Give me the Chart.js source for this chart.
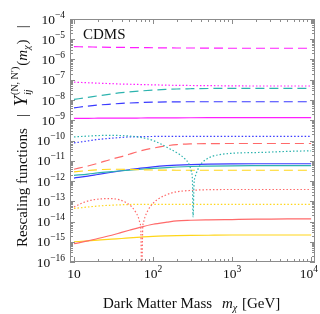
<!DOCTYPE html>
<html>
<head>
<meta charset="utf-8">
<script src="https://cdn.jsdelivr.net/npm/chart.js@4.4.1/dist/chart.umd.min.js"></script>
<style>
body{margin:0;background:#fff}
#wrap{width:320px;height:314px}
</style>
</head>
<body>
<div id="wrap"><canvas id="c"></canvas></div>
<script>
// dark matter mass grid (GeV) shared by the smooth curves
const mass = [10, 15, 20, 30, 40, 50, 70, 100, 150, 200, 300, 500, 1000, 2000, 5000, 10000];

const magentaDashed = [4.3e-6, 4.2e-6, 4.1e-6, 4.0e-6, 3.95e-6, 3.9e-6, 3.85e-6, 3.8e-6, 3.75e-6, 3.7e-6, 3.7e-6, 3.65e-6, 3.6e-6, 3.6e-6, 3.6e-6, 3.6e-6];
const magentaDotted = [7.6e-8, 7.1e-8, 6.8e-8, 6.4e-8, 6.1e-8, 6.0e-8, 5.8e-8, 5.6e-8, 5.4e-8, 5.3e-8, 5.2e-8, 5.1e-8, 5.0e-8, 4.9e-8, 4.9e-8, 4.9e-8];
const cyanDashed = [1.07e-8, 1.34e-8, 1.6e-8, 2.0e-8, 2.3e-8, 2.5e-8, 2.8e-8, 3.1e-8, 3.35e-8, 3.5e-8, 3.6e-8, 3.7e-8, 3.75e-8, 3.75e-8, 3.75e-8, 3.75e-8];
const blueDashed = [4.1e-9, 5.0e-9, 5.6e-9, 6.3e-9, 6.8e-9, 7.1e-9, 7.5e-9, 7.8e-9, 8.0e-9, 8.1e-9, 8.2e-9, 8.2e-9, 8.2e-9, 8.2e-9, 8.2e-9, 8.2e-9];
const magentaSolid = [1.25e-9, 1.25e-9, 1.26e-9, 1.27e-9, 1.28e-9, 1.28e-9, 1.29e-9, 1.3e-9, 1.31e-9, 1.32e-9, 1.33e-9, 1.34e-9, 1.35e-9, 1.35e-9, 1.35e-9, 1.35e-9];
const blueDotted = [7.6e-11, 9.5e-11, 1.12e-10, 1.3e-10, 1.42e-10, 1.5e-10, 1.55e-10, 1.58e-10, 1.6e-10, 1.6e-10, 1.6e-10, 1.6e-10, 1.6e-10, 1.6e-10, 1.6e-10, 1.6e-10];
const redDashed = [3.8e-12, 5.5e-12, 7.5e-12, 1.2e-11, 1.6e-11, 2.1e-11, 3.1e-11, 4.2e-11, 5.5e-11, 6.3e-11, 6.8e-11, 7.0e-11, 7.1e-11, 7.1e-11, 7.1e-11, 7.1e-11];
const yellowDashed = [2.8e-12, 3.3e-12, 3.6e-12, 3.8e-12, 3.8e-12, 3.75e-12, 3.6e-12, 3.5e-12, 3.45e-12, 3.4e-12, 3.4e-12, 3.4e-12, 3.4e-12, 3.4e-12, 3.4e-12, 3.4e-12];
const cyanSolid = [1.9e-12, 2.2e-12, 2.5e-12, 2.9e-12, 3.2e-12, 3.4e-12, 3.8e-12, 4.2e-12, 4.6e-12, 4.9e-12, 5.2e-12, 5.4e-12, 5.6e-12, 5.7e-12, 5.8e-12, 5.8e-12];
const blueSolid = [1.4e-12, 1.75e-12, 2.1e-12, 2.7e-12, 3.2e-12, 3.6e-12, 4.3e-12, 5.0e-12, 5.7e-12, 6.1e-12, 6.5e-12, 6.8e-12, 7.0e-12, 7.1e-12, 7.1e-12, 7.1e-12];
const yellowDotted = [4.4e-14, 5.2e-14, 5.8e-14, 6.4e-14, 6.7e-14, 6.9e-14, 7.0e-14, 7.0e-14, 7.0e-14, 7.0e-14, 7.0e-14, 7.0e-14, 7.0e-14, 7.0e-14, 7.0e-14, 7.0e-14];
const redSolid = [8e-16, 1.1e-15, 1.45e-15, 2.1e-15, 2.9e-15, 3.7e-15, 5.3e-15, 7.3e-15, 9.3e-15, 1.08e-14, 1.15e-14, 1.2e-14, 1.25e-14, 1.3e-14, 1.35e-14, 1.35e-14];
const yellowSolid = [1.0e-15, 1.1e-15, 1.2e-15, 1.35e-15, 1.45e-15, 1.55e-15, 1.7e-15, 1.85e-15, 1.95e-15, 2.0e-15, 2.05e-15, 2.1e-15, 2.15e-15, 2.15e-15, 2.15e-15, 2.15e-15];

// curves that pass through zero need their own denser mass grids
const cyanDotMass = [10, 15, 20, 28.6, 40, 55, 75, 100, 123, 160, 207, 250, 285, 305, 315, 321, 330, 340, 360, 400, 455, 572, 700, 935, 2500, 5000, 10000];
const cyanDotted = [1.5e-10, 1.65e-10, 1.75e-10, 1.8e-10, 1.75e-10, 1.6e-10, 1.35e-10, 1.0e-10, 7e-11, 4e-11, 2.3e-11, 1.3e-11, 6.8e-12, 3e-12, 1.1e-12, 1.7e-14, 7e-13, 1.5e-12, 3e-12, 6.5e-12, 1.07e-11, 1.7e-11, 2e-11, 2.3e-11, 2.6e-11, 2.9e-11, 3.1e-11];
const redDotMass = [10, 13.5, 18, 28.6, 37, 47, 54, 60, 65, 68, 70, 72, 74, 76, 79, 86, 95, 115, 140, 180, 290, 1000, 10000];
const redDotted = [5.2e-14, 9e-14, 1.2e-13, 1.35e-13, 1.2e-13, 8e-14, 5.2e-14, 3e-14, 1.65e-14, 9e-15, 4.4e-15, 1e-17, 4.8e-15, 9.4e-15, 1.65e-14, 3.5e-14, 6.3e-14, 1.26e-13, 1.9e-13, 2.7e-13, 3.4e-13, 3.8e-13, 3.8e-13];

const yTickExps = [-4, -5, -6, -7, -8, -9, -10, -11, -12, -13, -14, -15, -16];
const xTickExps = [1, 2, 3, 4];

const MAG = "#ff1fff", CYA = "#2db3ae", BLU = "#3a3aff", RED = "#ff6a6a", YEL = "#ffd61a";
const DASH = [9, 5], DOT = [1.5, 2], SOLID = [];
const FONT = "'Liberation Serif', 'Times New Roman', serif";

const pts = (xs, ys) => xs.map((m, i) => ({x: m, y: ys[i]}));
const line = (xs, ys, color, dash) => ({
    data: pts(xs, ys), borderColor: color, borderWidth: 1.2, borderDash: dash,
    pointRadius: 0, fill: false, cubicInterpolationMode: "monotone"
});

const datasets = [
    line(mass, magentaDashed, MAG, DASH),
    line(mass, magentaDotted, MAG, DOT),
    line(mass, cyanDashed, CYA, DASH),
    line(mass, blueDashed, BLU, DASH),
    line(mass, magentaSolid, MAG, SOLID),
    line(cyanDotMass, cyanDotted, CYA, DOT),
    line(mass, blueDotted, BLU, DOT),
    line(mass, redDashed, RED, DASH),
    line(mass, yellowDashed, YEL, DASH),
    line(mass, cyanSolid, CYA, SOLID),
    line(mass, blueSolid, BLU, SOLID),
    line(redDotMass, redDotted, RED, DOT),
    line(mass, yellowDotted, YEL, DOT),
    line(mass, redSolid, RED, SOLID),
    line(mass, yellowSolid, YEL, SOLID)
];

// draw a run of text pieces one after another: [text, font, dy, extra gap]
function runs(ctx, x, y, parts){
    for(const p of parts){
        ctx.font = p[1];
        ctx.fillText(p[0], x, y + (p[2] || 0));
        x += ctx.measureText(p[0]).width + (p[3] || 0);
    }
    return x;
}

const frame = {
    id: "frame",
    afterDraw(ch){
        const ctx = ch.ctx, a = ch.chartArea, xs = ch.scales.x, ys = ch.scales.y;
        ctx.save();
        ctx.strokeStyle = "#8c8c8c"; ctx.lineWidth = 1;
        ctx.beginPath();
        for(let e = 0; e <= 4; e++) for(let j = 1; j <= 9; j++){
            const v = j * 10 ** e;
            if(v < xs.min || v > xs.max) continue;
            const px = Math.round(xs.getPixelForValue(v)) + 0.5, L = j == 1 ? 5 : 3;
            ctx.moveTo(px, a.bottom); ctx.lineTo(px, a.bottom - L);
            ctx.moveTo(px, a.top); ctx.lineTo(px, a.top + L);
        }
        for(let e = -16; e <= -4; e++) for(let j = 1; j <= 9; j++){
            const v = j * 10 ** e;
            if(v > 1.0001e-4) continue;
            const py = Math.round(ys.getPixelForValue(v)) + 0.5, L = j == 1 ? 5 : 3;
            ctx.moveTo(a.left, py); ctx.lineTo(a.left + L, py);
            ctx.moveTo(a.right, py); ctx.lineTo(a.right - L, py);
        }
        ctx.stroke();
        ctx.strokeRect(a.left + 0.5, a.top + 0.5, a.right - a.left - 1, a.bottom - a.top - 1);

        ctx.fillStyle = "#111";
        ctx.textBaseline = "alphabetic";
        // y tick labels
        yTickExps.forEach(e => {
            const py = ys.getPixelForValue(10 ** e);
            ctx.font = "9.5px " + FONT;
            const ex = "\u2212" + (-e), we = ctx.measureText(ex).width;
            ctx.font = "13.5px " + FONT;
            const wb = ctx.measureText("10").width;
            const x0 = 65 - we - wb;
            runs(ctx, x0, py + 4.5, [["10", "13.5px " + FONT, 0], [ex, "9.5px " + FONT, -6]]);
        });
        // x tick labels
        xTickExps.forEach(e => {
            const px = xs.getPixelForValue(10 ** e);
            ctx.font = "13.5px " + FONT;
            const wb = ctx.measureText("10").width;
            let we = 0;
            if(e > 1){ ctx.font = "9.5px " + FONT; we = ctx.measureText(String(e)).width; }
            let x0 = px - (wb + we) / 2;
            if(x0 + wb + we > 318) x0 = 318 - wb - we;
            const parts = [["10", "13.5px " + FONT, 0]];
            if(e > 1) parts.push([String(e), "9.5px " + FONT, -6]);
            runs(ctx, x0, 278, parts);
        });
        // experiment tag
        runs(ctx, 83, 39, [["CDMS", "15px " + FONT, 0]]);
        // x title
        runs(ctx, 103, 308, [["Dark Matter Mass", "15px " + FONT, 0]]);
        runs(ctx, 222, 308, [["m", "italic 15px " + FONT, 0], ["\u03c7", "italic 10px " + FONT, 3, 1], [" [GeV]", "15px " + FONT, 0]]);
        // y title (rotated)
        ctx.translate(27, 247); ctx.rotate(-Math.PI / 2);
        let x = runs(ctx, 0, 0, [["Rescaling functions", "15px " + FONT, 0], ["   |  ", "15px " + FONT, 0]]);
        x = runs(ctx, x, 0, [["Y", "italic 19px " + FONT, 0, 1]]);
        runs(ctx, x, 0, [["ij", "italic 10px " + FONT, 4]]);
        x = runs(ctx, x, 0, [["(N, N\u2032)", "10px " + FONT, -9, 1]]);
        runs(ctx, x, 0, [["(", "15px " + FONT, 0], ["m", "italic 15px " + FONT, 0], ["\u03c7", "italic 10px " + FONT, 3, 1], [")", "15px " + FONT, 0], ["   |", "15px " + FONT, 0]]);
        ctx.restore();
    }
};

new Chart(document.getElementById("c"), {
    type: "line",
    data: {datasets},
    options: {
        responsive: true, maintainAspectRatio: false, animation: false,
        layout: {padding: {left: 70, top: 19, right: 5, bottom: 52}},
        plugins: {legend: {display: false}, tooltip: {enabled: false}},
        scales: {
            x: {type: "logarithmic", min: 8.9, max: 11200, display: false},
            y: {type: "logarithmic", min: 1e-16, max: 1e-4, display: false}
        }
    },
    plugins: [frame]
});
</script>
</body>
</html>
